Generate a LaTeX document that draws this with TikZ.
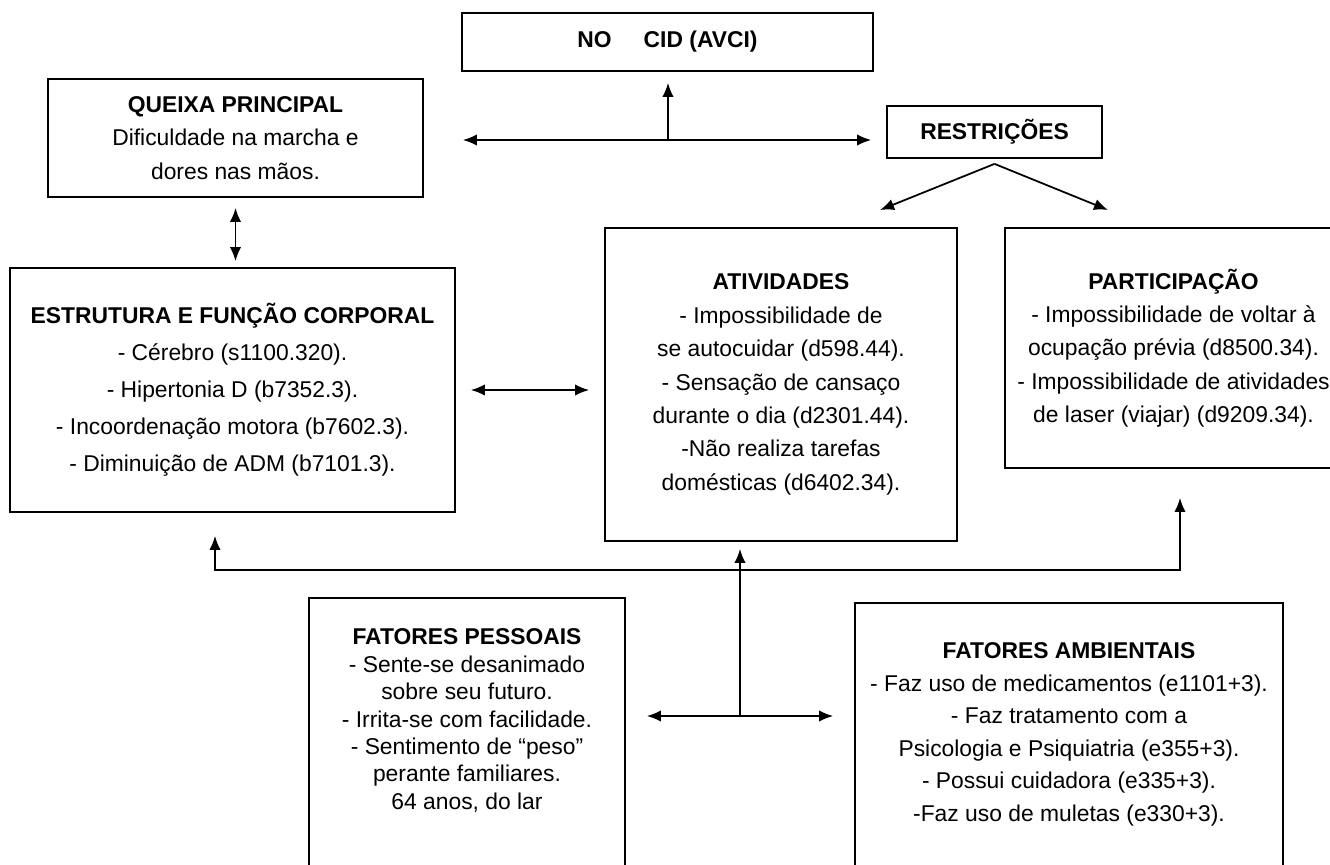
\documentclass[tikz,border=0pt]{standalone}
\usepackage{fontspec}
\setmainfont{Liberation Sans}
\usetikzlibrary{arrows.meta}
\usetikzlibrary{calc}

\begin{document}
\begin{tikzpicture}[x=0.2mm, y=-0.2mm,
  line/.style={>={Latex[length=8pt,width=6.5pt]}, line width=1pt},
  box/.style={draw, line width=1pt, align=center, inner sep=0pt, font=\fontsize{13}{19}\selectfont}]
\path[use as bounding box] (0,0) rectangle (1330,864);

\node[box, minimum width=82.2mm, minimum height=11.6mm] (cid) at (667.5,42) {\textbf{NO\hspace{1.4em}CID (AVCI)}};
\node[box, minimum width=75mm, minimum height=23.6mm] (queixa) at (235.5,138)
  {\textbf{QUEIXA PRINCIPAL}\\Dificuldade na marcha e\\dores nas mãos.};
\node[box, minimum width=43mm, minimum height=10.4mm] (restr) at (994.5,132) {\textbf{RESTRIÇÕES}};

\node[box, minimum width=89mm, minimum height=48.8mm, font=\fontsize{13}{21}\selectfont] (estrutura) at (232.5,390)
  {\textbf{ESTRUTURA E FUNÇÃO CORPORAL}\\- Cérebro (s1100.320).\\- Hipertonia D (b7352.3).\\- Incoordenação motora (b7602.3).\\- Diminuição de ADM (b7101.3).};
\node[box, minimum width=70.4mm, minimum height=62.6mm] (atividades) at (781,384.5)
  {\textbf{ATIVIDADES}\\- Impossibilidade de\\se autocuidar (d598.44).\\- Sensação de cansaço\\durante o dia (d2301.44).\\-Não realiza tarefas\\domésticas (d6402.34).};
\node[box, minimum width=67.4mm, minimum height=48mm] (particip) at (1173.5,348)
  {\textbf{PARTICIPAÇÃO}\\- Impossibilidade de voltar à\\ocupação prévia (d8500.34).\\- Impossibilidade de atividades\\de laser (viajar) (d9209.34).};

% caixas de baixo continuam fora da pagina
\node[box, anchor=north, minimum width=63.2mm, inner ysep=6.2mm, font=\fontsize{13}{15.6}\selectfont] (pessoais) at (467,597)
  {\textbf{FATORES PESSOAIS}\\- Sente-se desanimado\\sobre seu futuro.\\- Irrita-se com facilidade.\\- Sentimento de “peso”\\perante familiares.\\64 anos, do lar\\[30mm]\mbox{}};
\node[box, anchor=north, minimum width=85.6mm, inner ysep=8mm, font=\fontsize{13}{18.5}\selectfont] (ambientais) at (1069,602)
  {\textbf{FATORES AMBIENTAIS}\\- Faz uso de medicamentos (e1101+3).\\- Faz tratamento com a\\Psicologia e Psiquiatria (e355+3).\\- Possui cuidadora (e335+3).\\-Faz uso de muletas (e330+3).\\[30mm]\mbox{}};

\coordinate (hub) at (668,140);
\coordinate (restrL) at (880,210);
\coordinate (restrR) at (1108,210);
\coordinate (busL) at (215,570);
\coordinate (busR) at (1180,570);
\coordinate (jn) at (740,716);

\draw[->, line, shorten >=2.2mm] (hub) -- (hub |- cid.south);
\draw[<->, line, shorten <=7.8mm, shorten >=3mm] (queixa.east |- hub) -- (restr.west |- hub);
\draw[<->, line, shorten <=2mm, shorten >=1.2mm] (queixa.south) -- (queixa.south |- estrutura.north);
\draw[->, line] ([yshift=-1mm]restr.south) -- (restrL);
\draw[->, line] ([yshift=-1mm]restr.south) -- (restrR);
\draw[<->, line, shorten <=3mm, shorten >=3mm] (estrutura.east) -- (estrutura.east -| atividades.west);

\draw[<->, line, shorten <=4.6mm, shorten >=5.8mm] (busL |- estrutura.south) -- (busL) -- (busR) -- (busR |- particip.south);
\draw[->, line, shorten >=1.4mm] (jn) -- (jn |- atividades.south);
\draw[<->, line, shorten <=4.2mm, shorten >=4.2mm] (pessoais.east |- jn) -- (ambientais.west |- jn);
\end{tikzpicture}
\end{document}
